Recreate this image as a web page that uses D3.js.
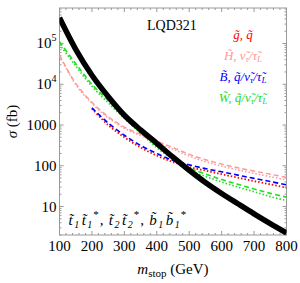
<!DOCTYPE html>
<html lang="en">
<head>
    <meta charset="UTF-8">
    <title>LQD321 stop pair cross sections</title>
    <script src="https://d3js.org/d3.v7.min.js"></script>
    <style>
        body { margin: 0; background: white; }
        text { font-family: "Liberation Serif", "DejaVu Serif", serif; }
        .frame { fill: none; stroke: #999; stroke-width: 1; }
        .tick { stroke: #999; stroke-width: 1; }
        .ticklabel { font-size: 15px; fill: black; }
        .legend { font-size: 13px; font-style: italic; }
    </style>
</head>
<body>
    <svg id="chart" width="300" height="283"></svg>

    <script>
        // masses (GeV)
        const masses = [100, 150, 200, 250, 300, 350, 400, 450, 500, 550, 600, 650, 700, 750, 800];
        const massesB = [200, 250, 300, 350, 400, 450, 500, 550, 600, 650, 700, 750, 800];

        // cross sections in fb
        const stopPair   = [4.27e5, 7.2e4, 1.66e4, 5000, 1740, 760, 355, 162, 77.6, 38.9, 20.9, 11.7, 6.6, 3.8, 2.24];
        const winoDash   = [1.1e5, 3.2e4, 1.0e4, 4000, 1660, 710, 316, 158, 89, 63, 46, 35, 27, 21, 17];
        const winoDot    = [9.5e4, 2.8e4, 8.9e3, 3500, 1450, 630, 280, 140, 78, 55, 40, 30, 23, 17.5, 14];
        const higgsDash  = [5.2e4, 1.05e4, 3600, 1600, 890, 590, 400, 280, 190, 141, 110, 89, 74, 62, 52];
        const higgsDot   = [5.0e4, 9.8e3, 3400, 1500, 830, 550, 370, 255, 172, 126, 98, 79, 65, 54, 45];
        const binoDash   = [2630, 1120, 560, 316, 200, 135, 105, 85, 71, 59, 49, 41, 34];
        const gluinoDot  = [2500, 1000, 500, 282, 178, 123, 93, 76, 62, 51, 42, 35, 29];

        const yTicks = [10, 100, 1000, 1e4, 1e5];
        const yTickLabels = ["10", "100", "1000", "10^4", "10^5"];
        const xTicks = [100, 200, 300, 400, 500, 600, 700, 800];

        const svg = d3.select("#chart");
        const pLeft = 59.5, pRight = 286.5, pTop = 8, pBottom = 235;

        const x = d3.scaleLinear().domain([100, 800]).range([pLeft, pRight]);
        const y = d3.scaleLog().domain([2.0, 7.43e5]).range([pBottom, pTop]);

        svg.append("defs").append("clipPath").attr("id", "clip")
           .append("rect")
           .attr("x", pLeft).attr("y", pTop)
           .attr("width", pRight - pLeft).attr("height", pBottom - pTop);

        // frame
        svg.append("rect")
           .attr("class", "frame")
           .attr("x", pLeft).attr("y", pTop)
           .attr("width", pRight - pLeft).attr("height", pBottom - pTop);

        // x ticks, top and bottom, pointing in
        d3.range(100, 801, 20).forEach(v => {
            const len = v % 100 === 0 ? 4 : 2;
            svg.append("line").attr("class", "tick")
               .attr("x1", x(v)).attr("x2", x(v))
               .attr("y1", pBottom).attr("y2", pBottom - len);
            svg.append("line").attr("class", "tick")
               .attr("x1", x(v)).attr("x2", x(v))
               .attr("y1", pTop).attr("y2", pTop + len);
        });

        // log ticks left and right
        const yMinor = [];
        [1, 10, 100, 1000, 1e4, 1e5].forEach(d => {
            for (let k = 1; k < 10; k++) {
                const v = d * k;
                if (v >= 2 && v <= 7.43e5) yMinor.push({v: v, major: k === 1});
            }
        });
        yMinor.forEach(t => {
            const len = t.major ? 4 : 2;
            svg.append("line").attr("class", "tick")
               .attr("x1", pLeft).attr("x2", pLeft + len)
               .attr("y1", y(t.v)).attr("y2", y(t.v));
            svg.append("line").attr("class", "tick")
               .attr("x1", pRight).attr("x2", pRight - len)
               .attr("y1", y(t.v)).attr("y2", y(t.v));
        });

        // tick labels
        svg.selectAll(".xlabel")
           .data(xTicks)
           .enter()
           .append("text")
           .attr("class", "ticklabel")
           .attr("x", d => x(d))
           .attr("y", pBottom + 16)
           .attr("text-anchor", "middle")
           .text(d => d);

        yTicks.forEach((v, i) => {
            const lbl = yTickLabels[i];
            const t = svg.append("text")
               .attr("class", "ticklabel")
               .attr("x", pLeft - 3)
               .attr("y", y(v) + 5)
               .attr("text-anchor", "end");
            if (lbl.indexOf("^") > 0) {
                const parts = lbl.split("^");
                t.append("tspan").text(parts[0]);
                t.append("tspan").attr("dy", -7).attr("font-size", "10px").text(parts[1]);
            } else {
                t.text(lbl);
            }
        });

        // axis titles
        svg.append("text")
           .attr("transform", `translate(17, ${(pTop + pBottom) / 2}) rotate(-90)`)
           .attr("text-anchor", "middle")
           .attr("font-size", "15px")
           .html('<tspan font-style="italic">σ</tspan> (fb)');

        const xt = svg.append("text")
           .attr("x", 173).attr("y", 274)
           .attr("text-anchor", "middle")
           .attr("font-size", "15px");
        xt.append("tspan").attr("font-style", "italic").text("m");
        xt.append("tspan").attr("font-size", "11px").attr("dy", 3).text("stop");
        xt.append("tspan").attr("dy", -3).text(" (GeV)");

        // curves
        const line = xs => d3.line()
            .x((d, i) => x(xs[i]))
            .y(d => y(d))
            .curve(d3.curveCatmullRom.alpha(0.5));

        const curves = [
            {data: higgsDot,  xs: masses,  color: "#ff9999", w: 1.5, dash: "1.5,2"},
            {data: higgsDash, xs: masses,  color: "#ff9999", w: 1.5, dash: "5,3"},
            {data: winoDot,   xs: masses,  color: "#22dd22", w: 1.6, dash: "1.5,2"},
            {data: winoDash,  xs: masses,  color: "#22dd22", w: 1.6, dash: "5,3"},
            {data: gluinoDot, xs: massesB, color: "#ff0000", w: 1.8, dash: "1.5,2"},
            {data: binoDash,  xs: massesB, color: "#0000ff", w: 1.6, dash: "5,3"},
            {data: stopPair,  xs: masses,  color: "#000000", w: 5.5, dash: null}
        ];

        const plot = svg.append("g").attr("clip-path", "url(#clip)");
        curves.forEach(c => {
            plot.append("path")
               .datum(c.data)
               .attr("fill", "none")
               .attr("stroke", c.color)
               .attr("stroke-width", c.w)
               .attr("stroke-dasharray", c.dash)
               .attr("d", line(c.xs));
        });

        // labels inside the plot
        svg.append("text")
           .attr("x", 147).attr("y", 30)
           .attr("font-size", "14px")
           .text("LQD321");

        const tl = "\u0303";
        const sl = '<tspan font-size="9px" dy="2">τ</tspan><tspan dy="-2">/τ' + tl + '</tspan><tspan font-size="9px" dy="2">L</tspan>';
        const legend = [
            {y: 39, color: "#ff0000", html: `g${tl}, q${tl}`},
            {y: 60, color: "#ff9999", html: `H${tl}, ν${tl}` + sl},
            {y: 81, color: "#0000ff", html: `B${tl}, q${tl}/ν${tl}` + sl},
            {y: 102, color: "#22dd22", html: `W${tl}, q${tl}/ν${tl}` + sl}
        ];
        legend.forEach(l => {
            svg.append("text")
               .attr("class", "legend")
               .attr("x", 243).attr("y", l.y)
               .attr("text-anchor", "middle")
               .attr("fill", l.color)
               .html(l.html);
        });

        // pair label, bottom left
        const pair = (s, n) =>
            `<tspan dx="1.5">${s}${tl}</tspan><tspan font-size="10px" dx="1.5" dy="3">${n}</tspan>` +
            `<tspan dx="2.5" dy="-3">${s}${tl}</tspan><tspan font-size="10px" dx="1.5" dy="3">${n}</tspan>` +
            `<tspan font-size="11px" font-style="normal" dx="1" dy="-10">*</tspan>`;
        svg.append("text")
           .attr("x", 67).attr("y", 225)
           .attr("font-size", "15px")
           .attr("font-style", "italic")
           .html(pair("t", "1") + '<tspan dx="1" dy="7">, </tspan>' + pair("t", "2") +
                 '<tspan dx="1" dy="7">, </tspan>' + pair("b", "1"));
    </script>
</body>
</html>
